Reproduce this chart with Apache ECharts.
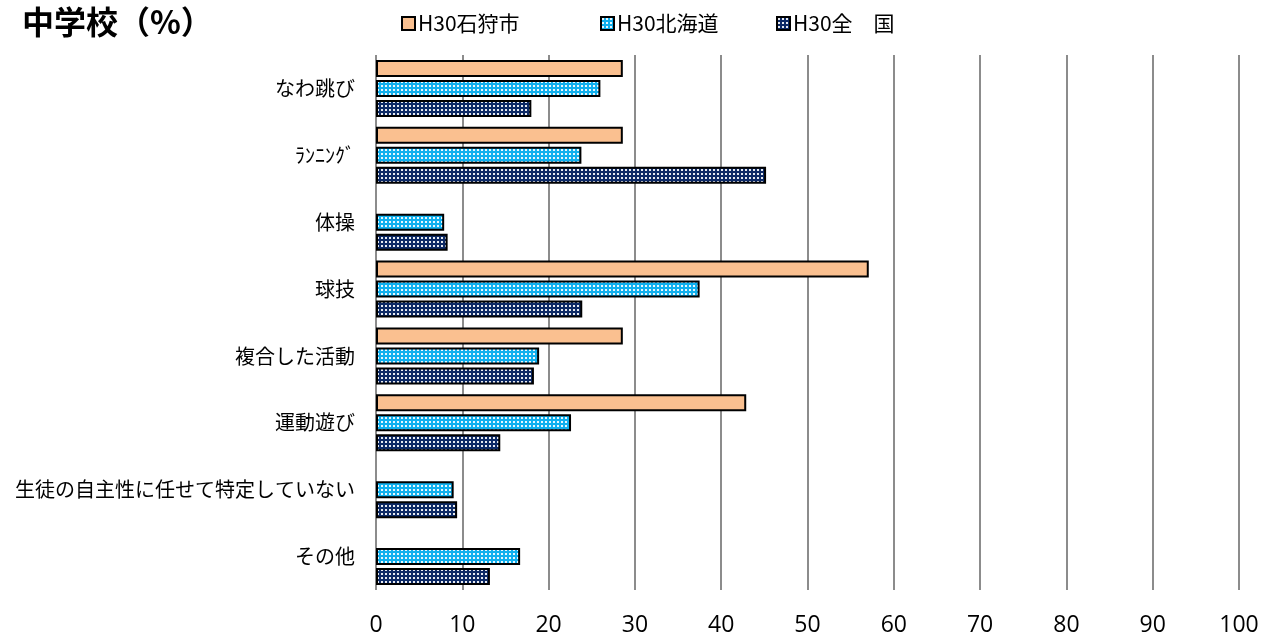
<!DOCTYPE html>
<html>
<head>
<meta charset="utf-8">
<script src="https://cdn.jsdelivr.net/npm/echarts@6/dist/echarts.min.js"></script>
<style>
  html, body { margin: 0; padding: 0; background: #fff; }
  #main { width: 1271px; height: 641px; }
</style>
</head>
<body>
<div id="main"></div>
<script>
// categories top to bottom
const categories = ['なわ跳び', 'ﾗﾝﾆﾝｸﾞ', '体操', '球技', '複合した活動', '運動遊び', '生徒の自主性に任せて特定していない', 'その他'];
const seriesNames = ['H30石狩市', 'H30北海道', 'H30全　国'];
const ishikari = [28.6, 28.6, null, 57.1, 28.6, 42.9, null, null];
const hokkaido = [26.0, 23.8, 7.9, 37.5, 18.9, 22.6, 9.0, 16.7];
const zenkoku = [18.0, 45.2, 8.3, 23.9, 18.3, 14.4, 9.4, 13.2];
const xTicks = [0, 10, 20, 30, 40, 50, 60, 70, 80, 90, 100];

// dotted fill like the original
function dots(bg) {
  let c = document.createElement('canvas');
  c.width = 4; c.height = 4;
  let ctx = c.getContext('2d');
  ctx.fillStyle = bg;
  ctx.fillRect(0, 0, 4, 4);
  ctx.fillStyle = 'rgba(255,255,255,0.9)';
  ctx.fillRect(1, 1, 2, 2);
  return { image: c, repeat: 'repeat' };
}

let myChart = echarts.init(document.getElementById('main'));
let font = '"Noto Sans CJK JP", "Noto Sans", sans-serif';

let fills = ['#FAC090', dots('#10b0ee'), dots('#0d2a66')];

let barStyle = function (i) {
  return { color: fills[i], borderColor: '#000', borderWidth: 2 };
};

// one legend per item so the spacing can follow the original
let legendLeft = [396, 595, 771];
let legends = seriesNames.map(function (n, i) {
  return {
    top: 8,
    left: legendLeft[i],
    icon: 'rect',
    itemWidth: 13,
    itemHeight: 13,
    textStyle: { fontSize: 21, color: '#000', padding: [0, 0, 0, -2], fontFamily: font },
    data: [n]
  };
});

let option = {
  animation: false,
  textStyle: { fontFamily: font },
  title: {
    text: '中学校（%）',
    left: 17,
    top: 1,
    textStyle: { fontSize: 32, fontWeight: 'bold', color: '#000', fontFamily: font }
  },
  legend: legends,
  grid: { left: 376, right: 32, top: 55, bottom: 51, containLabel: false },
  xAxis: {
    type: 'value',
    min: 0,
    max: 100,
    interval: 10,
    axisLine: { show: false },
    axisTick: { show: false },
    axisLabel: {
      fontSize: 23, color: '#000', margin: 24,
      fontFamily: '"Open Sans", sans-serif',
      formatter: function (v) { return xTicks.indexOf(v) >= 0 ? String(v) : ''; }
    },
    splitLine: { show: true, lineStyle: { color: '#8c8c8c', width: 2 } }
  },
  yAxis: {
    type: 'category',
    inverse: true,
    data: categories,
    axisLine: { show: false },
    axisTick: { show: false },
    axisLabel: { fontSize: 20, color: '#000', margin: 21 }
  },
  series: [
    { name: seriesNames[0], type: 'bar', data: ishikari, barWidth: 17, barGap: '18%', itemStyle: barStyle(0) },
    { name: seriesNames[1], type: 'bar', data: hokkaido, barWidth: 17, barGap: '18%', itemStyle: barStyle(1) },
    { name: seriesNames[2], type: 'bar', data: zenkoku, barWidth: 17, barGap: '18%', itemStyle: barStyle(2) }
  ]
};

option && myChart.setOption(option);
</script>
</body>
</html>
